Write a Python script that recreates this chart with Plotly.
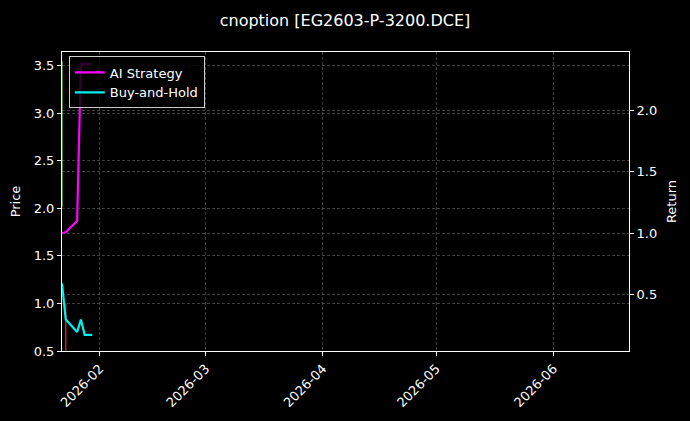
import plotly.graph_objects as go

# dates of the series (trading days)
dates = ["2026-01-22", "2026-01-23", "2026-01-26", "2026-01-27",
         "2026-01-28", "2026-01-29", "2026-01-30"]
ai_return = [1.0, 1.01, 1.10, 2.38, 2.38, 2.38, 2.38]      # right axis
buy_hold = [1.21, 0.83, 0.70, 0.83, 0.67, 0.67, 0.67]      # left axis

# signal markers (vertical segments)
buy_x = ["2026-01-22", "2026-01-22"]
buy_y = [2.01, 3.55]
sell_x = ["2026-01-23", "2026-01-23"]
sell_y = [0.5, 1.0]

title = "cnoption [EG2603-P-3200.DCE]"
font = "DejaVu Sans"
grid = "rgba(110,110,110,0.55)"

fig = go.Figure()

fig.add_trace(go.Scatter(x=buy_x, y=buy_y, mode="lines", line=dict(color="#7cfc7c", width=1),
                         showlegend=False, hoverinfo="skip"))
fig.add_trace(go.Scatter(x=sell_x, y=sell_y, mode="lines", line=dict(color="#ff2020", width=1.2),
                         showlegend=False, hoverinfo="skip"))
fig.add_trace(go.Scatter(x=dates, y=ai_return, mode="lines", name="AI Strategy",
                         line=dict(color="#ff00ff", width=2.2), yaxis="y2"))
fig.add_trace(go.Scatter(x=dates, y=buy_hold, mode="lines", name="Buy-and-Hold",
                         line=dict(color="#00f0f0", width=2.2)))

axis_common = dict(ticks="outside", ticklen=4, tickcolor="white", showline=True,
                   linecolor="white", linewidth=1, showgrid=True, gridcolor=grid,
                   griddash="3px,2px", gridwidth=0.6, zeroline=False, automargin=False)

fig.update_layout(
    width=690, height=421,
    paper_bgcolor="black", plot_bgcolor="black",
    font=dict(family=font, color="white", size=13),
    margin=dict(l=62, r=61, t=52, b=70),
    title=dict(text=title, x=0.5, xanchor="center", y=0.952, yanchor="middle",
               font=dict(size=16, color="white")),
    xaxis=dict(range=["2026-01-22", "2026-06-21"], dtick="M1", tick0="2026-01-01",
               tickformat="%Y-%m", tickangle=-45, mirror=True,
               tickfont=dict(size=13), **axis_common),
    yaxis=dict(range=[0.5, 3.643], dtick=0.5, tickformat=".1f", mirror=True,
               title=dict(text="Price", standoff=10, font=dict(size=13)), **axis_common),
    yaxis2=dict(range=[0.042, 2.476], dtick=0.5, tick0=0, tickformat=".1f",
                overlaying="y", side="right",
                title=dict(text="Return", standoff=10, font=dict(size=13)), **axis_common),
    legend=dict(x=0.012, y=0.985, xanchor="left", yanchor="top",
                bgcolor="rgba(0,0,0,0.8)", bordercolor="#cccccc", borderwidth=1,
                font=dict(size=13, color="white"), tracegroupgap=2),
    showlegend=True,
)

fig.write_html("out.html", config={"displayModeBar": False},
               post_script="document.body.style.margin='0';document.body.style.background='black';")
